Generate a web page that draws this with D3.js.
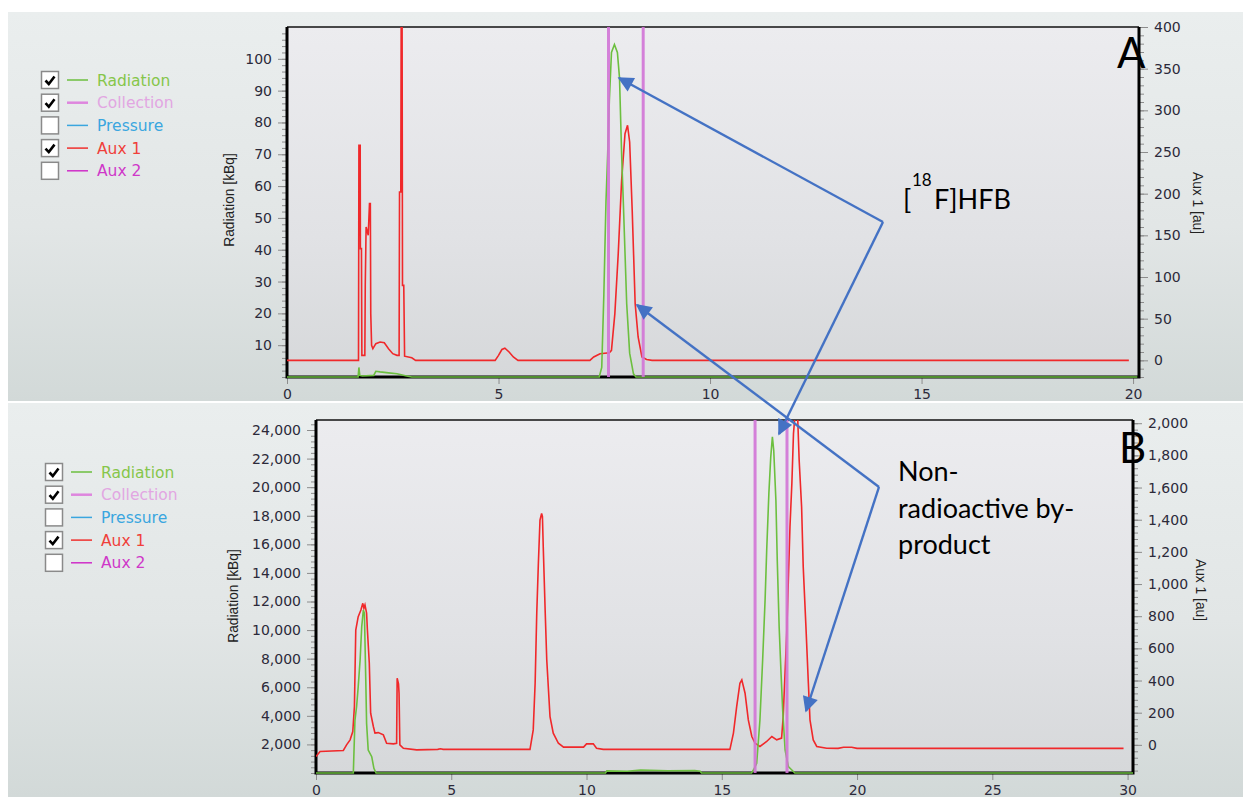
<!DOCTYPE html>
<html>
<head>
<meta charset="utf-8">
<script src="https://cdn.jsdelivr.net/npm/d3@7"></script>
<style>
  body { margin: 0; background: #fff; }
  svg { display: block; }
  .tick text { font-family: "DejaVu Sans", sans-serif; font-size: 14px; fill: #2c2a3a; }
  .tick line { stroke: #8c8c8c; }
  .axis-title { font-family: "Liberation Sans", Arial, sans-serif; font-size: 13.8px; fill: #222; }
  .legend text { font-family: "DejaVu Sans", sans-serif; font-size: 15.5px; }
  .note { font-family: Lato, "Open Sans", sans-serif; fill: #000; }
</style>
</head>
<body>
<div id="chart"></div>
<script>
// legend entries of the acquisition software
var legendNames = ["Radiation", "Collection", "Pressure", "Aux 1", "Aux 2"];
var legendChecked = [true, true, false, true, false];
var legendColors = ["#6cbf3f", "#de86de", "#3aa6df", "#f0302e", "#cf2fc8"];
var legendTextColors = ["#86c64a", "#e2a6e2", "#3aa6df", "#f0403a", "#cf37c8"];

// run A: time [min], Aux 1 [au]
var auxA = [
  [0, 0], [1.69, 0], [1.70, 258], [1.73, 258], [1.735, 134], [1.76, 134], [1.77, 6], [1.84, 6],
  [1.85, 90], [1.87, 160], [1.92, 150], [1.95, 188], [1.97, 188], [1.98, 56], [2.0, 18], [2.03, 14],
  [2.1, 20], [2.2, 22], [2.3, 21], [2.4, 14], [2.5, 8], [2.6, 6], [2.65, 6], [2.66, 202], [2.69, 202],
  [2.70, 430], [2.72, 430], [2.73, 90], [2.76, 90], [2.78, 5], [2.95, 3], [3.04, 0], [4.92, 0],
  [5.0, 6], [5.08, 13], [5.15, 14.5], [5.25, 10], [5.35, 4], [5.46, 0], [7.16, 0], [7.25, 4],
  [7.4, 8], [7.62, 9], [7.67, 12], [7.75, 56], [7.83, 128], [7.91, 216], [7.99, 272], [8.05, 282],
  [8.1, 262], [8.16, 180], [8.23, 68], [8.3, 28], [8.39, 4], [8.5, 1], [8.63, 0], [19.9, 0]
];
// run A: time [min], Radiation [kBq]
var radA = [
  [0, 0], [1.68, 0], [1.70, 3], [1.72, 0.5], [1.78, 0.3], [2.05, 0.5], [2.1, 1.8], [2.2, 1.6],
  [2.4, 1.3], [2.6, 1.0], [2.8, 0.4], [2.95, 0], [7.38, 0], [7.44, 3], [7.49, 26], [7.54, 55],
  [7.58, 70], [7.62, 87], [7.67, 102], [7.74, 104.5], [7.81, 102], [7.86, 94], [7.91, 70],
  [7.95, 55], [7.99, 39], [8.03, 23], [8.1, 7.5], [8.19, 1], [8.25, 0], [20.1, 0]
];
var collectA = [7.6, 8.42];

// run B: time [min], Aux 1 [au]
var auxB = [
  [0, -73], [0.15, -41], [1.01, -35], [1.13, 0], [1.26, 31], [1.36, 83], [1.42, 238], [1.47, 714],
  [1.56, 797], [1.66, 839], [1.73, 880], [1.77, 850], [1.81, 870], [1.87, 820], [1.9, 714],
  [1.97, 507], [2.02, 197], [2.12, 114], [2.18, 73], [2.3, 76], [2.49, 62], [2.61, 10], [2.86, 6],
  [2.98, 10], [3.0, 414], [3.05, 380], [3.07, 321], [3.1, 0], [3.23, -21], [3.72, -31], [4.5, -28],
  [4.6, -24], [4.7, -28], [6.8, -28], [7.91, -28], [8.03, 93], [8.1, 383], [8.16, 818], [8.22, 1129],
  [8.28, 1398], [8.34, 1439], [8.37, 1420], [8.4, 1232], [8.47, 838], [8.53, 528], [8.65, 176],
  [8.77, 73], [8.96, 10], [9.15, -14], [9.89, -14], [10.0, 6], [10.25, 6], [10.37, -21], [10.62, -28],
  [15.3, -28], [15.43, 73], [15.55, 238], [15.67, 383], [15.74, 404], [15.86, 321], [15.98, 155],
  [16.11, 52], [16.23, 10], [16.41, -10], [16.66, 21], [16.85, 52], [17.03, 31], [17.21, 42],
  [17.27, 176], [17.4, 694], [17.46, 1025], [17.52, 1356], [17.59, 1625], [17.65, 1936], [17.71, 2060],
  [17.8, 2060], [17.86, 1770], [17.95, 1480], [18.01, 1107], [18.11, 735], [18.2, 383], [18.26, 155],
  [18.38, 31], [18.51, -10], [18.88, -21], [19.3, -22], [19.5, -15], [19.8, -15], [20.0, -22], [29.85, -22]
];
// run B: time [min], Radiation [kBq]
var radB = [
  [0, 0], [1.38, 0], [1.44, 3706], [1.5, 4636], [1.56, 6035], [1.63, 7902], [1.69, 10231],
  [1.75, 11399], [1.79, 11166], [1.84, 6503], [1.87, 3473], [1.93, 1608], [2.06, 1140], [2.14, 329],
  [2.22, 0], [10.7, 0], [10.75, 150], [11.5, 120], [12, 200], [13, 160], [14, 180], [14.2, 120],
  [14.25, 0], [16.1, 0], [16.17, 210], [16.29, 678], [16.41, 3706], [16.51, 7902], [16.6, 12098],
  [16.66, 15594], [16.74, 19557], [16.81, 22117], [16.87, 23515], [16.92, 22587], [17.0, 19091],
  [17.05, 14895], [17.12, 10231], [17.19, 6972], [17.25, 4406], [17.34, 1608], [17.46, 441],
  [17.59, 210], [17.7, 0], [30.2, 0]
];
var collectB = [16.23, 17.41];

// axis ticks
var xTicksA = [0, 5, 10, 15, 20];
var leftTicksA = d3.range(10, 101, 10);
var rightTicksA = d3.range(0, 401, 50);
var xTicksB = [0, 5, 10, 15, 20, 25, 30];
var leftTicksB = d3.range(2000, 24001, 2000);
var rightTicksB = d3.range(0, 2001, 200);

var W = 1243, H = 797;

var svg = d3.select("#chart").append("svg")
    .attr("width", W)
    .attr("height", H);

var defs = svg.append("defs");

var panelGrad = defs.append("linearGradient").attr("id", "panelGrad")
    .attr("x1", 0).attr("y1", 0).attr("x2", 0).attr("y2", 1);
panelGrad.append("stop").attr("offset", "0%").attr("stop-color", "#eaeeee");
panelGrad.append("stop").attr("offset", "55%").attr("stop-color", "#e2e6e6");
panelGrad.append("stop").attr("offset", "100%").attr("stop-color", "#d2d9d8");

var plotGrad = defs.append("linearGradient").attr("id", "plotGrad")
    .attr("x1", 0).attr("y1", 0).attr("x2", 0).attr("y2", 1);
plotGrad.append("stop").attr("offset", "0%").attr("stop-color", "#ececef");
plotGrad.append("stop").attr("offset", "60%").attr("stop-color", "#e1e2e5");
plotGrad.append("stop").attr("offset", "100%").attr("stop-color", "#d6d8da");

defs.append("marker")
    .attr("id", "arrow")
    .attr("viewBox", "0 0 10 10")
    .attr("refX", 9)
    .attr("refY", 5)
    .attr("markerWidth", 7.5)
    .attr("markerHeight", 6.5)
    .attr("orient", "auto")
  .append("path")
    .attr("d", "M0,0L10,5L0,10Z")
    .attr("fill", "#4472c4");

function styleAxis(sel) {
  sel.select(".domain").remove();
  sel.selectAll(".tick line").attr("stroke", "#8c8c8c");
}

function drawPanel(p, idx) {
  var g = svg.append("g");

  g.append("rect")
    .attr("x", 8).attr("y", p.panelTop)
    .attr("width", W - 8).attr("height", p.panelBottom - p.panelTop)
    .attr("fill", "url(#panelGrad)");

  var x = d3.scaleLinear().domain(p.xDomain).range([p.left, p.right]);
  var yL = d3.scaleLinear().domain(p.leftDomain).range([p.bottom, p.top]);
  var yR = d3.scaleLinear().domain(p.rightDomain).range([p.bottom, p.top]);

  g.append("rect")
    .attr("x", p.left).attr("y", p.top)
    .attr("width", p.right - p.left).attr("height", p.bottom - p.top)
    .attr("fill", "url(#plotGrad)");

  // clip reaches one pixel under the bottom edge so the zero line stays visible
  defs.append("clipPath").attr("id", "clip" + idx)
    .append("rect")
    .attr("x", p.left).attr("y", p.top)
    .attr("width", p.right - p.left).attr("height", p.bottom - p.top + 1);

  // minor ticks
  g.append("g").attr("transform", "translate(" + (p.left - 1) + ",0)")
    .call(d3.axisLeft(yL).tickValues(p.leftMinor).tickSize(4).tickFormat(""))
    .call(styleAxis);
  g.append("g").attr("transform", "translate(" + (p.right + 1) + ",0)")
    .call(d3.axisRight(yR).tickValues(p.rightMinor).tickSize(4).tickFormat(""))
    .call(styleAxis);

  // major ticks
  g.append("g").attr("transform", "translate(" + (p.left - 1) + ",0)")
    .call(d3.axisLeft(yL).tickValues(p.leftTicks).tickSize(8).tickPadding(6).tickFormat(p.fmt))
    .call(styleAxis);
  g.append("g").attr("transform", "translate(" + (p.right + 1) + ",0)")
    .call(d3.axisRight(yR).tickValues(p.rightTicks).tickSize(8).tickPadding(6).tickFormat(p.fmt))
    .call(styleAxis);
  g.append("g").attr("transform", "translate(0," + (p.bottom + 1) + ")")
    .call(d3.axisBottom(x).tickValues(p.xTicks).tickSize(6).tickPadding(5).tickFormat(d3.format("d")))
    .call(styleAxis);

  g.append("text").attr("class", "axis-title")
    .attr("transform", "translate(" + p.leftTitle[0] + "," + p.leftTitle[1] + ") rotate(-90)")
    .attr("text-anchor", "middle").attr("dominant-baseline", "central")
    .text("Radiation [kBq]");
  g.append("text").attr("class", "axis-title")
    .attr("transform", "translate(" + p.rightTitle[0] + "," + p.rightTitle[1] + ") rotate(90)")
    .attr("text-anchor", "middle").attr("dominant-baseline", "central")
    .text("Aux 1 [au]");

  // frame: heavy left, bottom and right edges
  g.append("line").attr("x1", p.left).attr("x2", p.right).attr("y1", p.top).attr("y2", p.top)
    .attr("stroke", "#111").attr("stroke-width", 1.6);
  g.append("path")
    .attr("d", "M" + p.left + "," + p.top + "V" + p.bottom + "H" + p.right + "V" + p.top)
    .attr("fill", "none").attr("stroke", "#000").attr("stroke-width", 3);

  var plot = g.append("g").attr("clip-path", "url(#clip" + idx + ")");

  var lineR = d3.line().x(function(d) { return x(d[0]); }).y(function(d) { return yR(d[1]); });
  var lineL = d3.line().x(function(d) { return x(d[0]); }).y(function(d) { return yL(d[1]); });

  plot.append("path").datum(p.aux)
    .attr("d", lineR)
    .attr("fill", "none")
    .attr("stroke", "#f0282a")
    .attr("stroke-width", 1.6)
    .attr("stroke-linejoin", "miter");

  plot.append("path").datum(p.rad)
    .attr("d", lineL)
    .attr("fill", "none")
    .attr("stroke", "#6cbf3f")
    .attr("stroke-width", 1.6);

  plot.selectAll("line.collect")
    .data(p.collect)
    .enter()
    .append("line")
    .attr("class", "collect")
    .attr("x1", function(d) { return x(d); })
    .attr("x2", function(d) { return x(d); })
    .attr("y1", p.top)
    .attr("y2", p.bottom)
    .attr("stroke", "#d274d6")
    .attr("stroke-opacity", 0.9)
    .attr("stroke-width", 3);

  // legend
  var lg = g.append("g").attr("class", "legend");
  var rows = lg.selectAll("g").data(legendNames).enter().append("g")
    .attr("transform", function(d, i) {
      return "translate(" + p.legendX + "," + (p.legendY + i * 22.7) + ")";
    });
  rows.append("rect")
    .attr("x", 0.5).attr("y", -8.5).attr("width", 17).attr("height", 17)
    .attr("fill", "#fff").attr("stroke", "#8a8a8a").attr("stroke-width", 1.5);
  rows.filter(function(d, i) { return legendChecked[i]; })
    .append("path")
    .attr("d", "M4.5,0.5 L7.8,4 L13.5,-3.5")
    .attr("fill", "none").attr("stroke", "#000").attr("stroke-width", 2.6);
  rows.append("line")
    .attr("x1", 26).attr("x2", 47).attr("y1", 0).attr("y2", 0)
    .attr("stroke", function(d, i) { return legendColors[i]; })
    .attr("stroke-width", function(d, i) { return i === 1 ? 2.5 : 1.5; });
  rows.append("text")
    .attr("x", 56).attr("y", 0).attr("dy", "0.36em")
    .attr("fill", function(d, i) { return legendTextColors[i]; })
    .text(function(d) { return d; });
}

drawPanel({
  panelTop: 12, panelBottom: 401,
  left: 287, right: 1139, top: 27, bottom: 377,
  xDomain: [0, 20.14], leftDomain: [0, 110], rightDomain: [-20, 400],
  xTicks: xTicksA, leftTicks: leftTicksA, rightTicks: rightTicksA,
  leftMinor: d3.range(0, 110, 2), rightMinor: d3.range(-20, 401, 10),
  fmt: d3.format("d"),
  leftTitle: [229, 200], rightTitle: [1197, 203],
  legendX: 41, legendY: 80,
  aux: auxA, rad: radA, collect: collectA
}, 0);

drawPanel({
  panelTop: 403, panelBottom: 797,
  left: 316, right: 1133, top: 420, bottom: 773,
  xDomain: [0, 30.2], leftDomain: [0, 24700], rightDomain: [-175, 2020],
  xTicks: xTicksB, leftTicks: leftTicksB, rightTicks: rightTicksB,
  leftMinor: d3.range(0, 24700, 400), rightMinor: d3.range(-160, 2020, 40),
  fmt: d3.format(","),
  leftTitle: [233, 596], rightTitle: [1200, 590],
  legendX: 45, legendY: 472,
  aux: auxB, rad: radB, collect: collectB
}, 1);

// annotations
var notes = svg.append("g");

notes.append("text").attr("class", "note").attr("x", 1117).attr("y", 68)
  .attr("font-size", 42).text("A");
notes.append("text").attr("class", "note").attr("x", 1119).attr("y", 463)
  .attr("font-size", 42).text("B");

notes.append("text").attr("class", "note").attr("x", 903).attr("y", 209)
  .attr("font-size", 27).text("[");
notes.append("text").attr("class", "note").attr("x", 912).attr("y", 186)
  .attr("font-size", 17).text("18");
notes.append("text").attr("class", "note").attr("x", 934).attr("y", 209)
  .attr("font-size", 27).text("F]HFB");

var byLines = ["Non-", "radioactive by-", "product"];
notes.append("text").attr("class", "note").attr("font-size", 27)
  .selectAll("tspan").data(byLines).enter().append("tspan")
  .attr("x", 898)
  .attr("y", function(d, i) { return 481 + i * 36.5; })
  .text(function(d) { return d; });

var arrows = [
  [[883, 222], [619, 78]],
  [[883, 222], [779, 434]],
  [[879, 487], [637, 305]],
  [[879, 487], [806, 711]]
];
notes.selectAll("line.arrow")
  .data(arrows)
  .enter()
  .append("line")
  .attr("class", "arrow")
  .attr("x1", function(d) { return d[0][0]; })
  .attr("y1", function(d) { return d[0][1]; })
  .attr("x2", function(d) { return d[1][0]; })
  .attr("y2", function(d) { return d[1][1]; })
  .attr("stroke", "#4472c4")
  .attr("stroke-width", 2.4)
  .attr("marker-end", "url(#arrow)");
</script>
</body>
</html>
